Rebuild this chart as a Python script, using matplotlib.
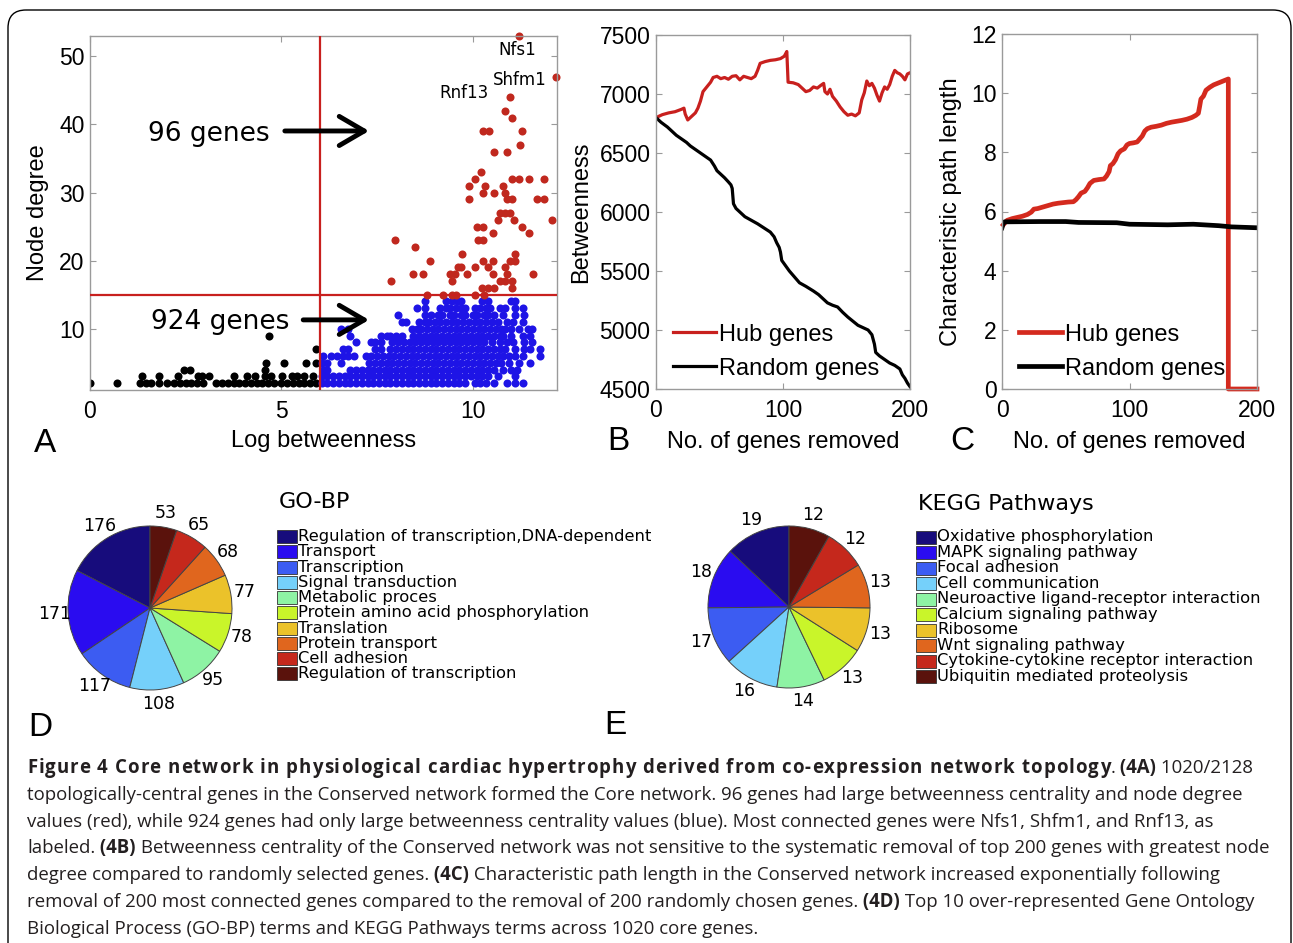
"""Core network figure: degree/betweenness scatter, removal curves, GO/KEGG pies."""

import numpy as np
import matplotlib
matplotlib.use('Agg')
import matplotlib.pyplot as plt
from matplotlib.patches import Rectangle, FancyBboxPatch
from matplotlib.font_manager import FontProperties

W, H = 1293, 943

# ---- Panel A: node degree vs log betweenness (x values per degree row)
black_rows = {
    2: [0.0, 0.7, 1.3, 1.45, 1.6, 1.8, 2.0, 2.2, 2.35, 2.5, 2.65, 2.8, 2.95, 3.3, 3.45,
        3.6, 3.75, 3.9, 4.05, 4.2, 4.35, 4.5, 4.65, 4.8, 5.0, 5.15, 5.3, 5.45, 5.6, 5.75, 5.9],
    3: [1.37, 1.79, 2.31, 2.81, 2.92, 3.1, 3.76, 4.1, 4.3, 4.56, 4.74, 5.02, 5.28, 5.4,
        5.58, 5.82],
    4: [2.46, 2.6, 4.56],
    5: [4.59, 5.06, 5.65, 5.91],
    7: [5.91],
    9: [4.67],
}
blue_rows = {
    2: [6.05, 6.2, 6.35, 6.5, 6.65, 6.8, 6.95, 7.1, 7.25, 7.4, 7.55, 7.7, 7.85, 8.0, 8.15,
        8.3, 8.45, 8.6, 8.75, 8.9, 9.05, 9.2, 9.35, 9.5, 9.65, 9.8, 10.05, 10.2, 10.35,
        10.55, 10.9, 11.1, 11.3],
    3: [6.05, 6.2, 6.35, 6.5, 6.65, 6.8, 6.95, 7.1, 7.25, 7.4, 7.55, 7.7, 7.85, 8.0, 8.15,
        8.3, 8.45, 8.6, 8.75, 8.9, 9.05, 9.2, 9.35, 9.5, 9.65, 9.8, 9.95, 10.1, 10.25,
        10.4, 10.65, 11.1],
    4: [6.1, 6.2, 6.8, 6.95, 7.1, 7.25, 7.4, 7.55, 7.7, 7.85, 8.0, 8.15, 8.3, 8.45, 8.6,
        8.75, 8.9, 9.05, 9.2, 9.35, 9.5, 9.65, 9.8, 9.95, 10.1, 10.25, 10.4, 10.55, 10.8,
        11.0, 11.15],
    5: [6.05, 6.2, 6.55, 7.3, 7.45, 7.6, 7.75, 7.9, 8.05, 8.2, 8.35, 8.5, 8.65, 8.8, 8.95,
        9.1, 9.25, 9.4, 9.55, 9.7, 9.85, 10.0, 10.15, 10.3, 10.45, 10.6, 10.75, 10.95,
        11.2, 11.5],
    6: [6.1, 6.3, 6.45, 6.6, 6.75, 6.9, 7.2, 7.35, 7.5, 7.65, 7.8, 7.95, 8.1, 8.25, 8.4,
        8.55, 8.7, 8.85, 9.0, 9.15, 9.3, 9.45, 9.6, 9.75, 9.9, 10.05, 10.2, 10.35, 10.5,
        10.65, 10.8, 10.95, 11.1, 11.3, 11.75],
    7: [6.6, 6.75, 7.45, 7.6, 7.85, 8.0, 8.15, 8.3, 8.45, 8.6, 8.75, 8.9, 9.05, 9.2, 9.35,
        9.5, 9.65, 9.8, 9.95, 10.1, 10.25, 10.4, 10.55, 10.7, 10.85, 11.1, 11.35, 11.5,
        11.75],
    8: [6.95, 7.35, 7.45, 7.6, 7.9, 8.05, 8.2, 8.35, 8.5, 8.65, 8.8, 8.95, 9.1, 9.25, 9.4,
        9.55, 9.7, 9.85, 10.0, 10.15, 10.3, 10.5, 10.7, 10.9, 11.05, 11.35, 11.55],
    9: [6.8, 7.6, 7.75, 7.85, 8.0, 8.15, 8.45, 8.6, 8.75, 8.9, 9.05, 9.2, 9.35, 9.5, 9.65,
        9.8, 9.95, 10.1, 10.25, 10.4, 10.55, 10.7, 10.8, 11.0, 11.3, 11.5],
    10: [6.55, 6.75, 8.4, 8.55, 8.65, 8.8, 8.95, 9.1, 9.25, 9.4, 9.55, 9.7, 9.85, 10.0,
         10.15, 10.3, 10.45, 10.6, 10.75, 10.85, 11.0, 11.2, 11.45, 11.55],
    11: [8.15, 8.25, 8.6, 8.75, 8.85, 9.0, 9.15, 9.3, 9.45, 9.6, 9.75, 9.9, 10.05, 10.2,
         10.35, 10.5, 10.65, 10.9, 11.05, 11.3],
    12: [8.05, 8.75, 8.9, 9.1, 9.2, 9.4, 9.5, 9.7, 9.8, 10.0, 10.1, 10.3, 10.4, 10.55,
         10.8, 11.1, 11.35],
    13: [8.55, 8.75, 9.15, 9.3, 9.4, 9.55, 9.7, 9.8, 10.05, 10.2, 10.35, 10.45, 10.7,
         10.85, 11.1, 11.3],
    14: [8.75, 9.3, 9.45, 9.6, 9.7, 10.25, 10.4, 11.0, 11.1],
}
red_x = [11.21, 12.17, 10.97, 10.85, 11.03, 10.26, 10.43, 11.28, 10.55, 10.89, 11.23,
         10.21, 10.07, 11.03, 11.21, 11.46, 11.87, 9.89, 10.32, 10.80, 9.91, 10.26, 10.55,
         10.83, 10.89, 11.03, 11.67, 11.87, 10.71, 10.85, 10.98, 10.67, 11.08, 12.06,
         10.12, 10.26, 11.28, 10.53, 11.46, 7.98, 10.14, 10.27, 8.48, 9.73, 11.10, 8.89,
         10.26, 10.53, 10.98, 11.10, 9.62, 9.68, 10.05, 10.39, 10.83, 8.43, 8.71, 9.41,
         9.53, 9.86, 10.53, 10.89, 11.58, 7.86, 9.45, 10.71, 10.85, 11.03, 10.24, 10.39,
         10.55, 11.03, 8.80, 9.23, 9.45, 9.57, 10.07, 10.30]
red_y = [53, 47, 44, 42, 41, 39, 39, 39, 36, 36, 37,
         33, 32, 32, 32, 32, 32, 31, 31, 31, 29, 30, 30,
         30, 29, 29, 29, 29, 27, 27, 27, 26, 26, 26,
         25, 25, 25, 24, 24, 23, 23, 23, 22, 21, 21, 20,
         20, 20, 20, 20, 19, 19, 19, 19, 19, 18, 18, 18,
         18, 18, 18, 18, 18, 17, 17, 17, 17, 17, 16, 16,
         16, 16, 15, 15, 15, 15, 15, 15]
gene_names = ["Nfs1", "Shfm1", "Rnf13"]
gene_pos = [(11.17, 51.0), (11.23, 46.6), (9.77, 44.7)]
betw_cut, degree_cut = 6, 15

# ---- Panel B: betweenness after gene removal
hub_b_x = [0, 5, 10, 15, 20, 22, 23, 25, 28, 31, 33, 35, 37, 40, 43, 45, 48, 51, 54, 57,
           60, 63, 66, 69, 72, 75, 78, 80, 82, 86, 90, 94, 98, 101, 103, 104, 108, 112,
           115, 118, 121, 124, 127, 130, 132, 133, 135, 137, 139, 142, 145, 148, 151, 154,
           157, 160, 162, 164, 166, 168, 170, 172, 174, 176, 178, 180, 182, 184, 186, 188,
           190, 192, 194, 196, 198, 200]
hub_b_y = [6800, 6825, 6840, 6850, 6870, 6880, 6830, 6780, 6810, 6840, 6880, 6940, 7020,
           7060, 7100, 7140, 7150, 7130, 7140, 7125, 7150, 7155, 7120, 7150, 7140, 7130,
           7150, 7200, 7260, 7275, 7285, 7290, 7300, 7320, 7360, 7100, 7095, 7080, 7050,
           7020, 7030, 7060, 7050, 7075, 7090, 7020, 7000, 7040, 6980, 6940, 6890, 6850,
           6820, 6830, 6815, 6840, 6950, 7010, 7110, 7070, 7090, 7050, 6990, 6940, 7010,
           7060, 7040, 7080, 7150, 7200, 7180, 7170, 7150, 7120, 7170, 7180]
rand_b_x = [0, 4, 9, 13, 16, 20, 24, 27, 31, 35, 39, 43, 46, 48, 51, 54, 57, 59, 60, 61,
            63, 66, 70, 75, 80, 85, 90, 93, 95, 97, 98, 99, 101, 105, 109, 113, 118, 124,
            128, 132, 135, 139, 143, 147, 151, 155, 159, 163, 167, 170, 172, 173, 176,
            180, 184, 188, 192, 194, 196, 198, 200]
rand_b_y = [6800, 6760, 6720, 6680, 6650, 6620, 6590, 6560, 6530, 6500, 6470, 6440, 6390,
            6350, 6320, 6290, 6255, 6230, 6200, 6070, 6030, 6000, 5960, 5930, 5900, 5865,
            5830, 5790, 5740, 5700, 5660, 5590, 5560, 5500, 5450, 5400, 5370, 5330, 5300,
            5260, 5230, 5210, 5195, 5150, 5110, 5075, 5040, 5020, 5000, 4960, 4880, 4810,
            4780, 4750, 4720, 4700, 4670, 4620, 4590, 4550, 4520]

# ---- Panel C: characteristic path length after gene removal
hub_c_x = [1, 4, 8, 12, 16, 20, 23, 25, 28, 32, 36, 40, 44, 48, 52, 56, 58, 60, 62, 65,
           67, 69, 72, 76, 80, 82, 84, 85, 87, 89, 91, 93, 96, 98, 100, 103, 106, 108,
           110, 112, 114, 117, 121, 125, 129, 133, 137, 141, 145, 149, 152, 154, 155,
           156, 158, 160, 163, 166, 170, 174, 177.5, 177.5, 200]
hub_c_y = [5.55, 5.7, 5.76, 5.8, 5.84, 5.9, 5.98, 6.08, 6.1, 6.15, 6.2, 6.25, 6.28, 6.3,
           6.32, 6.33, 6.4, 6.5, 6.62, 6.68, 6.8, 6.95, 7.05, 7.08, 7.1, 7.2, 7.35, 7.55,
           7.62, 7.75, 7.95, 8.05, 8.12, 8.25, 8.3, 8.32, 8.35, 8.45, 8.55, 8.72, 8.8,
           8.85, 8.88, 8.92, 8.98, 9.02, 9.05, 9.08, 9.12, 9.18, 9.25, 9.32, 9.55, 9.8,
           9.9, 10.1, 10.2, 10.28, 10.35, 10.42, 10.48, 0, 0]
rand_c_x = [0, 1, 2, 30, 50, 60, 90, 100, 130, 150, 170, 180, 200]
rand_c_y = [5.45, 5.6, 5.65, 5.66, 5.66, 5.63, 5.62, 5.57, 5.55, 5.57, 5.52, 5.48, 5.45]

# ---- Panels D/E: pies
go_terms = ["Regulation of transcription,DNA-dependent", "Transport", "Transcription",
            "Signal transduction", "Metabolic proces",
            "Protein amino acid phosphorylation", "Translation", "Protein transport",
            "Cell adhesion", "Regulation of transcription"]
go_counts = [176, 171, 117, 108, 95, 78, 77, 68, 65, 53]
kegg_terms = ["Oxidative phosphorylation", "MAPK signaling pathway", "Focal adhesion",
              "Cell communication", "Neuroactive ligand-receptor interaction",
              "Calcium signaling pathway", "Ribosome", "Wnt signaling pathway",
              "Cytokine-cytokine receptor interaction", "Ubiquitin mediated proteolysis"]
kegg_counts = [19, 18, 17, 16, 14, 13, 13, 13, 12, 12]
slice_colors = ['#170c7c', '#2a0cf0', '#3c5cf2', '#75d0fa', '#8ef3a4',
                '#c9f52a', '#ebc22a', '#e0661e', '#c5281c', '#5a120c']

RED = '#c8201e'
plt.rcParams['font.family'] = ['Liberation Sans', 'DejaVu Sans']

fig = plt.figure(figsize=(W / 100, H / 100), dpi=100)


def px_axes(left, top, right, bottom):
    return fig.add_axes([left / W, 1 - bottom / H, (right - left) / W, (bottom - top) / H])


def style(ax):
    for s in ax.spines.values():
        s.set_color('#9a9a9a')
        s.set_linewidth(1.0)
    ax.tick_params(direction='in', length=4, width=0.8, color='#9a9a9a', top=True,
                   right=True, labelsize=16.5)
    ax.tick_params(axis='x', pad=7)
    ax.tick_params(axis='y', pad=4)


# -----------------------------------------------------------------------------
axA = px_axes(90, 36, 557, 390)
for deg, xs in black_rows.items():
    axA.plot(xs, [deg] * len(xs), 'o', color='black', ms=5.8, mew=0, zorder=2)
for deg, xs in blue_rows.items():
    axA.plot(xs, [deg] * len(xs), 'o', color='#1e14e6', ms=5.8, mew=0, zorder=2)
axA.plot(red_x, red_y, 'o', color='#c0281e', ms=5.8, mew=0, zorder=2, clip_on=False)
axA.axvline(betw_cut, color=RED, lw=1.6, zorder=3)
axA.axhline(degree_cut, color=RED, lw=1.6, zorder=3)
for name, (gx, gy) in zip(gene_names, gene_pos):
    axA.text(gx, gy, name, family='DejaVu Sans', fontsize=12, ha='center', va='center')
axA.text(3.11, 38.6, "96 genes", family='DejaVu Sans', fontsize=19, ha='center',
         va='center')
axA.text(3.40, 11.0, "924 genes", family='DejaVu Sans', fontsize=19, ha='center',
         va='center')
arrow = dict(arrowstyle='->, head_length=0.6, head_width=0.35', lw=3.5, color='black',
             mutation_scale=30, shrinkA=0, shrinkB=0)
axA.annotate('', xy=(7.29, 39.05), xytext=(5.09, 39.05), arrowprops=arrow)
axA.annotate('', xy=(7.29, 11.3), xytext=(5.57, 11.3), arrowprops=arrow)
axA.set_xlim(0, 12.2)
axA.set_ylim(1, 53)
axA.set_xticks([0, 5, 10])
axA.set_yticks([10, 20, 30, 40, 50])
axA.set_xlabel('Log betweenness', fontsize=17)
axA.set_ylabel('Node degree', fontsize=17)
axA.xaxis.set_label_coords(0.5, -0.112)
axA.yaxis.set_label_coords(-0.088, 0.5)
style(axA)

# -----------------------------------------------------------------------------
legend_kw = dict(loc='lower left', bbox_to_anchor=(0.03, 0.0), frameon=False,
                 fontsize=17, handlelength=1.8, handletextpad=0.15, labelspacing=0.5,
                 borderaxespad=0.0)

axB = px_axes(656, 35, 910, 389)
axB.plot(hub_b_x, hub_b_y, color=RED, lw=2.3, label='Hub genes')
axB.plot(rand_b_x, rand_b_y, color='black', lw=2.3, label='Random genes')
axB.set_xlim(0, 200)
axB.set_ylim(4500, 7500)
axB.set_xticks([0, 100, 200])
axB.set_yticks(np.arange(4500, 7501, 500))
axB.set_xlabel('No. of genes removed', fontsize=17)
axB.set_ylabel('Betweenness', fontsize=17)
axB.xaxis.set_label_coords(0.5, -0.118)
axB.yaxis.set_label_coords(-0.25, 0.5)
axB.legend(**legend_kw)
style(axB)

# -----------------------------------------------------------------------------
axC = px_axes(1002, 34, 1257, 389)
axC.plot(hub_c_x, hub_c_y, color='#d42a1e', lw=3.4, label='Hub genes', clip_on=False)
axC.plot(rand_c_x, rand_c_y, color='black', lw=3.4, label='Random genes')
axC.set_xlim(0, 200)
axC.set_ylim(0, 12)
axC.set_xticks([0, 100, 200])
axC.set_yticks(np.arange(0, 13, 2))
axC.set_xlabel('No. of genes removed', fontsize=17)
axC.set_ylabel('Characteristic path length', fontsize=17)
axC.xaxis.set_label_coords(0.5, -0.118)
axC.yaxis.set_label_coords(-0.155, 0.5)
axC.legend(**legend_kw)
style(axC)


# -----------------------------------------------------------------------------
def pie_panel(cx, cy, r, counts):
    ax = px_axes(cx - 1.5 * r, cy - 1.5 * r, cx + 1.5 * r, cy + 1.5 * r)
    ax.pie(counts, colors=slice_colors, startangle=90, counterclock=True,
           wedgeprops=dict(edgecolor='#444444', linewidth=0.7))
    ax.set_aspect('auto')
    ax.set_xlim(-1.5, 1.5)
    ax.set_ylim(-1.5, 1.5)
    total = float(sum(counts))
    mid = 90 + 360 * (np.cumsum(counts) - np.array(counts) / 2.0) / total
    for v, a in zip(counts, np.deg2rad(mid)):
        ax.text(1.17 * np.cos(a), 1.17 * np.sin(a), str(v), family='DejaVu Sans',
                fontsize=12.5, ha='center', va='center')
    return ax


pie_panel(150, 608, 82, go_counts)
pie_panel(789, 607, 81, kegg_counts)

# ---- overlay in pixel units: legends, panel letters, caption, frame
ov = fig.add_axes([0, 0, 1, 1])
ov.set_xlim(0, W)
ov.set_ylim(H, 0)
ov.axis('off')


def pie_legend(x0, y0, step, title, title_y, terms):
    ov.text(x0 + 2, title_y, title, family='DejaVu Sans', fontsize=16, va='center')
    for i, (term, col) in enumerate(zip(terms, slice_colors)):
        y = y0 + i * step
        ov.add_patch(Rectangle((x0, y - 6.5), 20, 13, facecolor=col, edgecolor='#333333',
                               lw=0.6))
        ov.text(x0 + 21, y, term, family='DejaVu Sans', fontsize=11.8, va='center')


pie_legend(277, 536.7, 15.25, "GO-BP", 502.5, go_terms)
pie_legend(916, 537.0, 15.5, "KEGG Pathways", 503.5, kegg_terms)

for letter, (lx, ly) in zip("ABCDE", [(45, 443), (618, 441), (962, 441), (40, 727),
                                      (615, 725)]):
    ov.text(lx, ly, letter, fontsize=24, ha='center', va='center')

caption = [
    [("Figure 4 Core network in physiological cardiac hypertrophy derived from "
      "co-expression network topology", 'title'), (".", False), (" (4A)", True),
     (" 1020/2128", False)],
    [("topologically-central genes in the Conserved network formed the Core network. "
      "96 genes had large betweenness centrality and node degree", False)],
    [("values (red), while 924 genes had only large betweenness centrality values "
      "(blue). Most connected genes were Nfs1, Shfm1, and Rnf13, as", False)],
    [("labeled.", False), (" (4B)", True),
     (" Betweenness centrality of the Conserved network was not sensitive to the "
      "systematic removal of top 200 genes with greatest node", False)],
    [("degree compared to randomly selected genes.", False), (" (4C)", True),
     (" Characteristic path length in the Conserved network increased exponentially "
      "following", False)],
    [("removal of 200 most connected genes compared to the removal of 200 randomly "
      "chosen genes.", False), (" (4D)", True),
     (" Top 10 over-represented Gene Ontology", False)],
    [("Biological Process (GO-BP) terms and KEGG Pathways terms across 1020 core "
      "genes.", False)],
]
CAP_SIZE = 13.45
CAP_FONT = ['Open Sans', 'DejaVu Sans']
TRACK = 1.05  # extra letter spacing (px) of the bold figure title
renderer = fig.canvas.get_renderer()
bold_prop = FontProperties(family=CAP_FONT, weight='bold', size=CAP_SIZE)


def text_w(s):
    return renderer.get_text_width_height_descent(s, bold_prop, ismath=False)[0]


for i, runs in enumerate(caption):
    x = 27
    y = 768.3 + i * 26.7 + 5
    for txt, kind in runs:
        if kind == 'title':
            for k, ch in enumerate(txt):
                if ch == ' ':
                    continue
                cx = x + text_w(txt[:k + 1]) - text_w(ch) + k * TRACK
                ov.text(cx, y, ch, family=CAP_FONT, fontsize=CAP_SIZE, fontweight='bold',
                        color='#231f20', va='baseline', ha='left')
            x += text_w(txt) + (len(txt) - 1) * TRACK
            continue
        t = ov.text(x, y, txt, family=CAP_FONT, fontsize=CAP_SIZE,
                    fontweight='bold' if kind else 'normal', color='#231f20',
                    va='baseline', ha='left')
        x += t.get_window_extent(renderer).width

ov.add_patch(FancyBboxPatch((8, 10), 1283, 960, boxstyle='round,pad=0,rounding_size=18',
                            fill=False, ec='black', lw=1.0, clip_on=False))

fig.savefig('out.png', dpi=100)
